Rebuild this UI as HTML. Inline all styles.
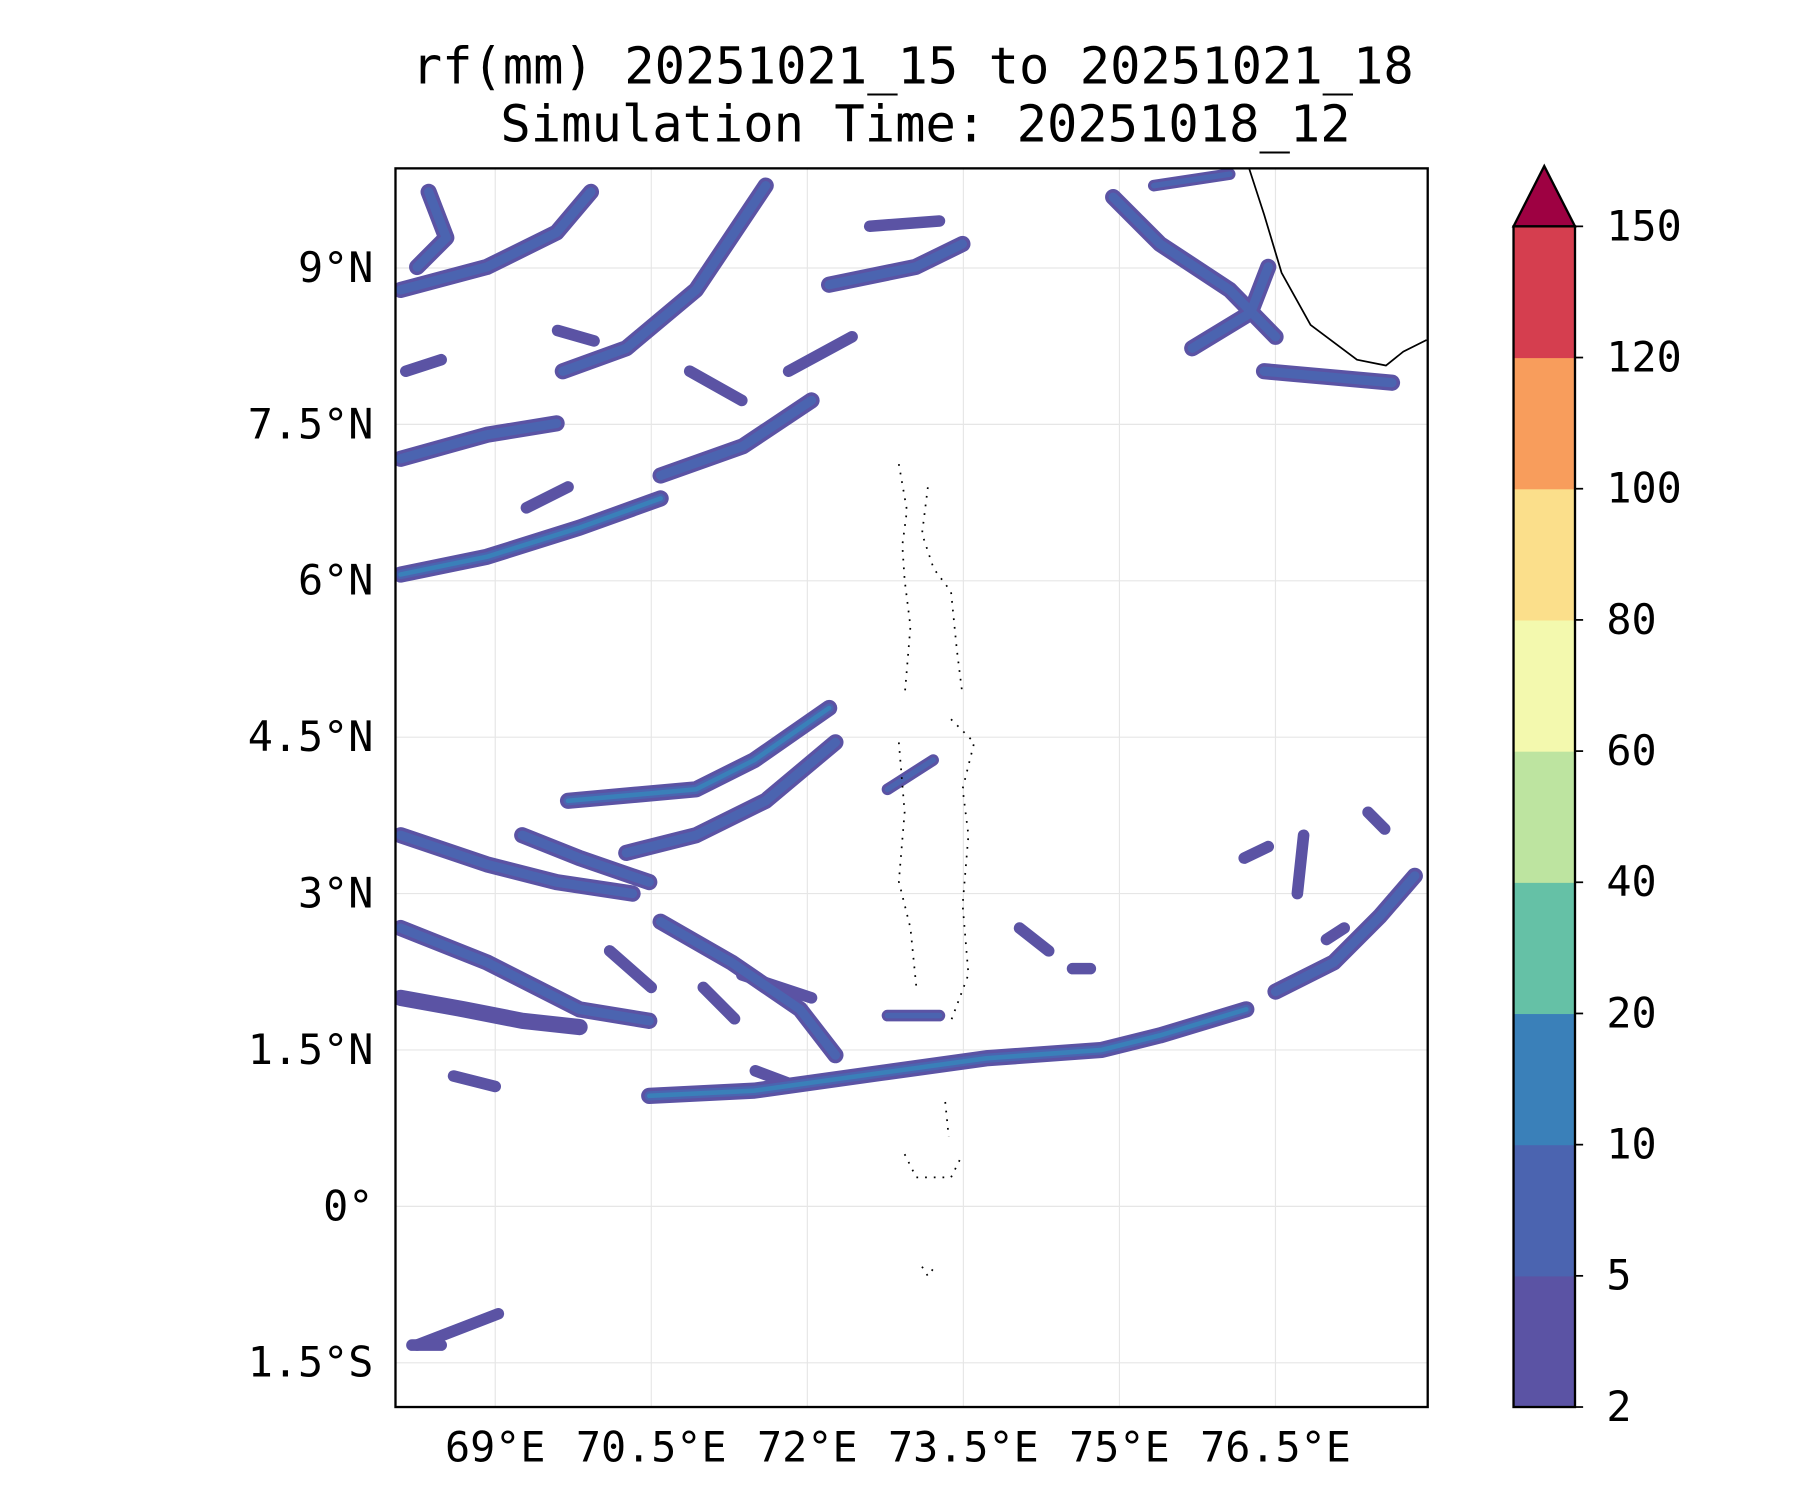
<!DOCTYPE html>
<html><head><meta charset="utf-8"><style>
html,body{margin:0;padding:0;background:#fff}
svg{display:block}
text{font-family:"DejaVu Sans Mono","Liberation Mono",monospace;fill:#000}
</style></head><body>
<svg id="chart" width="1800" height="1500" viewBox="0 0 1552 1293" xmlns="http://www.w3.org/2000/svg">
<defs><clipPath id="clip"><rect x="341" y="145" width="890" height="1068"/></clipPath></defs>
<text x="787" y="72" font-size="43.5" text-anchor="middle">rf(mm) 20251021_15 to 20251021_18</text>
<text x="798" y="122" font-size="43.5" text-anchor="middle">Simulation Time: 20251018_12</text>
<g id="grid"></g>
<g id="rain" clip-path="url(#clip)"></g>
<g id="coast" clip-path="url(#clip)"></g>
<rect x="341" y="145" width="890" height="1068" fill="none" stroke="#000" stroke-width="2"/>
<g id="ticks"></g>
<g id="cbar"></g>
</svg>
<script>
const lonTicks=[69,70.5,72,73.5,75,76.5];
const lonLabels=["69°E","70.5°E","72°E","73.5°E","75°E","76.5°E"];
const latTicks=[9,7.5,6,4.5,3,1.5,0,-1.5];
const latLabels=["9°N","7.5°N","6°N","4.5°N","3°N","1.5°N","0°","1.5°S"];
const levels=[2,5,10,20,40,60,80,100,120,150];
const levelColors=["#5b53a4","#4b64b0","#3a80b9","#65c1a6","#bde4a0","#f3f9ae","#fbdf8b","#f89d5c","#d53e4f"];
const extendColor="#9e0142";
const bandLons=[
[70.48,71.49,72.71,73.72,74.83,75.39,76.22],
[76.5,77.06,77.5,77.84],
[68.09,68.92,69.81,70.59],
[68.09,68.92,69.59],
[70.59,71.38,72.04],
[69.7,70.93,71.49,72.21],
[70.26,70.93,71.6,72.27],
[72.77,73.21],
[68.09,68.92,69.59,70.32],
[68.09,68.92,69.81,70.48],
[68.09,68.7,69.26,69.81],
[69.26,69.81,70.48],
[70.59,71.27,71.93,72.27],
[71.37,72.04],
[72.77,73.27],
[68.09,68.92,69.59,69.92],
[69.65,70.26,70.93,71.6],
[72.21,73.04,73.49],
[72.6,73.27],
[74.94,75.39,76.06,76.5],
[75.7,76.26,76.43],
[76.39,77.06,77.62],
[75.33,76.06],
[68.14,68.48],
[70.87,71.37],
[71.82,72.43],
[68.36,68.53,68.25],
[68.25,69.03],
[68.2,68.48],
[76.2,76.43],
[76.77,76.71],
[76.99,77.16],
[74.04,74.32],
[74.55,74.72],
[77.39,77.55],
[69.3,69.7],[70.1,70.5],[71.0,71.3],[71.5,71.9],[68.6,69.0],[69.6,69.95]
];
const bandLats=[
[1.06,1.11,1.28,1.42,1.5,1.64,1.89],
[2.06,2.34,2.78,3.17],
[6.06,6.23,6.51,6.79],
[7.17,7.4,7.51],
[7.01,7.29,7.73],
[3.89,4.0,4.28,4.78],
[3.39,3.56,3.89,4.45],
[4.0,4.28],
[3.56,3.28,3.11,3.0],
[2.67,2.34,1.89,1.78],
[2.0,1.89,1.78,1.72],
[3.56,3.34,3.11],
[2.73,2.34,1.89,1.45],
[2.22,2.0],
[1.83,1.83],
[8.79,9.01,9.34,9.73],
[8.01,8.23,8.79,9.79],
[8.84,9.01,9.23],
[9.4,9.45],
[9.68,9.23,8.79,8.34],
[8.23,8.57,9.01],
[8.01,7.95,7.9],
[9.79,9.9],
[8.01,8.12],
[8.01,7.73],
[8.01,8.34],
[9.73,9.29,9.01],
[-1.33,-1.03],
[-1.33,-1.33],
[3.34,3.45],
[3.56,3.0],
[2.56,2.67],
[2.67,2.45],
[2.28,2.28],
[3.78,3.62],
[6.7,6.9],[2.45,2.1],[2.1,1.8],[1.3,1.15],[1.25,1.15],[8.4,8.3]
];
const bandLevel=[2,1,2,1,1,2,1,1,1,1,0,1,1,0,1,1,1,1,0,1,1,1,1,0,0,0,1,0,0,0,0,0,0,0,0,0,0,0,0,0,0];

const NS="http://www.w3.org/2000/svg";
const X0=341,X1=1231,Y0=145,Y1=1213;
function xs(lon){return 427+(lon-69)*89.7;}
function ys(lat){return 1040-lat*89.9;}
function mk(tag,attrs,parent){const e=document.createElementNS(NS,tag);for(const k in attrs)e.setAttribute(k,attrs[k]);parent.appendChild(e);return e;}
const grid=document.getElementById('grid'),ticks=document.getElementById('ticks');
lonTicks.forEach((v,i)=>{
  const g=mk('line',{x1:xs(v),x2:xs(v),y1:Y0,y2:Y1,stroke:'#e6e6e6','stroke-width':1},grid);
  
  
  const t=mk('text',{x:xs(v),y:1260,'font-size':36,'text-anchor':'middle'},ticks);
  t.textContent=lonLabels[i];
  
  
});
latTicks.forEach((v,i)=>{
  const g=mk('line',{x1:X0,x2:X1,y1:ys(v),y2:ys(v),stroke:'#e6e6e6','stroke-width':1},grid);
  
  
  const t=mk('text',{x:322,y:ys(v)+12,'font-size':36,'text-anchor':'end'},ticks);
  t.textContent=latLabels[i];
  
  
});
const rain=document.getElementById('rain');
const widths=[14,8,4];
for(let lv=0;lv<3;lv++){
  bandLons.forEach((lons,i)=>{
    if(bandLevel[i]<lv)return;
    const pts=lons.map((l,j)=>xs(l).toFixed(1)+','+ys(bandLats[i][j]).toFixed(1)).join(' ');
    const p=mk('polyline',{points:pts,fill:'none',stroke:levelColors[lv],'stroke-width':lv===0?(lons.length>2?14:10):widths[lv]*(lons.length>2?1:0.6),'stroke-linecap':'round','stroke-linejoin':'round'},rain);
    
    
  });
}
const coast=document.getElementById('coast');
const cl=mk('polyline',{points:'1077,145 1090,185 1105,235 1130,280 1170,310 1195,315 1210,303 1230,293',fill:'none',stroke:'#000','stroke-width':1.5},coast);


const islands=['775,400 782,440 778,470 780,500 785,540 780,600','800,420 795,460 805,490 820,510 825,560 830,600','775,640 780,700 775,760 785,800 790,850','820,620 840,640 830,680 835,720 830,780 835,840 820,880','780,995 790,1015 820,1015 830,995','795,1092 800,1100 806,1092','815,950 818,980'];
islands.forEach(p=>{
  const e=mk('polyline',{points:p,fill:'none',stroke:'#000','stroke-width':1.5,'stroke-dasharray':'1.5 6'},coast);
  
  
});
const cbar=document.getElementById('cbar');
const cbTop=195,cbBot=1213,cx0=1305,cw=53,step=(cbBot-cbTop)/(levels.length-1);
levelColors.forEach((c,i)=>{
  const r=mk('rect',{x:cx0,y:cbBot-(i+1)*step,width:cw,height:step+0.5,fill:c},cbar);
  
  
});
const tri=mk('polygon',{points:`${cx0},${cbTop} ${cx0+cw/2},143 ${cx0+cw},${cbTop}`,fill:extendColor,stroke:'#000','stroke-width':2},cbar);


const fr=mk('rect',{x:cx0,y:cbTop,width:cw,height:cbBot-cbTop,fill:'none',stroke:'#000','stroke-width':2},cbar);


levels.forEach((v,i)=>{
  const y=cbBot-i*step;
  mk('line',{x1:cx0+cw,x2:cx0+cw+7,y1:y,y2:y,stroke:'#000','stroke-width':1.5},cbar);
  const t=mk('text',{x:1385,y:y+12,'font-size':36},cbar);
  t.textContent=v;
  
  
});
</script>
</body></html>
